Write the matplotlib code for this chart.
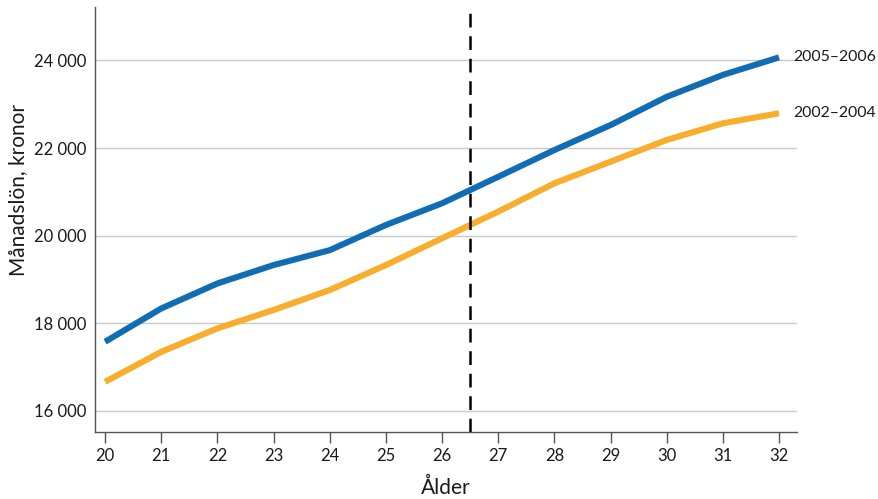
import matplotlib
matplotlib.use("Agg")
import matplotlib.pyplot as plt
from matplotlib.ticker import FuncFormatter

# Ålder (age) and monthly salary in kronor
ages = [20, 21, 22, 23, 24, 25, 26, 27, 28, 29, 30, 31, 32]
lon_2005_2006 = [17580, 18340, 18910, 19330, 19670, 20245, 20740, 21345, 21955, 22525, 23170, 23670, 24070]
lon_2002_2004 = [16665, 17350, 17885, 18305, 18760, 19330, 19940, 20550, 21195, 21690, 22185, 22565, 22795]
series_labels = ["2005\u20132006", "2002\u20132004"]
cutoff_age = 26.5
y_ticks = [16000, 18000, 20000, 22000, 24000]

plt.rcParams['font.family'] = ['Lato', 'DejaVu Sans']

fig = plt.figure(figsize=(8.79, 4.99), dpi=100)
ax = fig.add_axes([0.1081, 0.1343, 0.7986, 0.8517])

blue = "#106db4"
orange = "#f9ad2c"
text_col = "#1a1a1a"

ax.plot(ages, lon_2002_2004, color=orange, lw=4.4, solid_capstyle="butt", zorder=3)
ax.plot(ages, lon_2005_2006, color=blue, lw=4.4, solid_capstyle="butt", zorder=4)
ax.axvline(cutoff_age, color="black", lw=1.8, ls=(0, (5.5, 3.5)), zorder=5)

# end labels
ax.text(32.26, lon_2005_2006[-1], series_labels[0], fontsize=11.4, va="center", ha="left",
        clip_on=False, color=text_col)
ax.text(32.26, lon_2002_2004[-1], series_labels[1], fontsize=11.4, va="center", ha="left",
        clip_on=False, color=text_col)

ax.set_xlim(19.82, 32.32)
ax.set_ylim(15520, 25220)
ax.set_xticks(ages)
ax.set_yticks(y_ticks)
ax.yaxis.set_major_formatter(FuncFormatter(lambda v, p: f"{int(v):,}".replace(",", " ")))

ax.grid(axis="y", color="#c8c8c8", lw=1.0)
ax.set_axisbelow(True)
for s in ["top", "right"]:
    ax.spines[s].set_visible(False)
for s in ["left", "bottom"]:
    ax.spines[s].set_color("#555555")
    ax.spines[s].set_linewidth(1.0)

ax.tick_params(axis="x", length=8, width=1.0, color="#555555", labelsize=12, pad=3.5, labelcolor=text_col)
ax.tick_params(axis="y", length=0, labelsize=12, pad=6, labelcolor=text_col)

ax.set_xlabel("Ålder", fontsize=15, labelpad=10, color=text_col)
fig.text(18 / 879, 1 - 190 / 499, "Månadslön, kronor", fontsize=15, rotation=90,
         ha="center", va="center", color=text_col)

fig.savefig("out.png", dpi=100)
